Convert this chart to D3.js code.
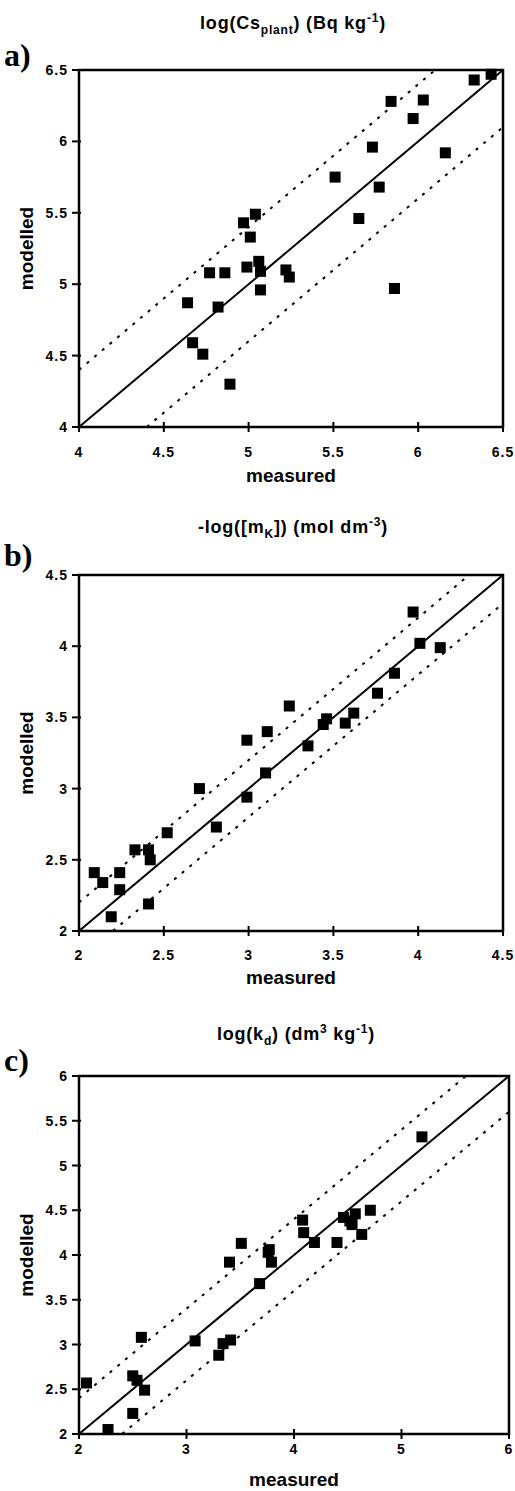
<!DOCTYPE html>
<html>
<head>
<meta charset="utf-8">
<script src="https://cdn.jsdelivr.net/npm/d3@7"></script>
<style>
  body { margin: 0; background: #fff; }
  text { font-family: "Liberation Sans", Arial, sans-serif; font-weight: bold; fill: #000; }
  .letter { font-family: "Liberation Serif", "Times New Roman", serif; font-size: 32px; }
</style>
</head>
<body>
<div id="chart"></div>
<script>
// panel a: log(Cs plant)
var aMeasured = [4.64, 4.67, 4.73, 4.77, 4.82, 4.86, 4.89, 4.97, 4.99, 5.01, 5.04, 5.06, 5.07, 5.07,
                 5.22, 5.24, 5.51, 5.65, 5.73, 5.77, 5.84, 5.86, 5.97, 6.03, 6.16, 6.33, 6.43];
var aModelled = [4.87, 4.59, 4.51, 5.08, 4.84, 5.08, 4.30, 5.43, 5.12, 5.33, 5.49, 5.16, 5.09, 4.96,
                 5.10, 5.05, 5.75, 5.46, 5.96, 5.68, 6.28, 4.97, 6.16, 6.29, 5.92, 6.43, 6.47];
var aTicks = [4, 4.5, 5, 5.5, 6, 6.5];
var aBand = 0.4;
var aTitle = [["log(Cs", ""], ["plant", "sub"], [") (Bq kg", ""], ["-1", "sup"], [")", ""]];

// panel b: -log([mK])
var bMeasured = [2.09, 2.14, 2.24, 2.24, 2.19, 2.41, 2.33, 2.41, 2.42, 2.52, 2.71, 2.81, 2.99, 2.99,
                 3.11, 3.10, 3.24, 3.35, 3.44, 3.46, 3.57, 3.62, 3.76, 3.86, 3.97, 4.01, 4.13];
var bModelled = [2.41, 2.34, 2.41, 2.29, 2.10, 2.19, 2.57, 2.57, 2.50, 2.69, 3.00, 2.73, 3.34, 2.94,
                 3.40, 3.11, 3.58, 3.30, 3.45, 3.49, 3.46, 3.53, 3.67, 3.81, 4.24, 4.02, 3.99];
var bTicks = [2, 2.5, 3, 3.5, 4, 4.5];
var bBand = 0.2;
var bTitle = [["-log([m", ""], ["K", "sub"], ["]) (mol dm", ""], ["-3", "sup"], [")", ""]];

// panel c: log(kd)
var cMeasured = [2.07, 2.27, 2.50, 2.50, 2.54, 2.61, 2.58, 3.08, 3.30, 3.34, 3.41, 3.40, 3.51, 3.68,
                 3.76, 3.79, 3.77, 4.08, 4.09, 4.19, 4.40, 4.46, 4.52, 4.54, 4.57, 4.63, 4.71, 5.19];
var cModelled = [2.57, 2.05, 2.23, 2.65, 2.60, 2.49, 3.08, 3.04, 2.88, 3.01, 3.05, 3.92, 4.13, 3.68,
                 4.03, 3.92, 4.06, 4.39, 4.25, 4.14, 4.14, 4.42, 4.38, 4.34, 4.46, 4.23, 4.50, 5.32];
var cXTicks = [2, 3, 4, 5, 6];
var cYTicks = [2, 2.5, 3, 3.5, 4, 4.5, 5, 5.5, 6];
var cBand = 0.4;
var cTitle = [["log(k", ""], ["d", "sub"], [") (dm", ""], ["3", "sup"], [" kg", ""], ["-1", "sup"], [")", ""]];

var panels = [
  { letter: "a)", title: aTitle, xs: aMeasured, ys: aModelled, xTicks: aTicks, yTicks: aTicks, band: aBand,
    left: 79, right: 503, top: 70, bottom: 427, titleY: 29, letterY: 66, tickY: 457, labelY: 482 },
  { letter: "b)", title: bTitle, xs: bMeasured, ys: bModelled, xTicks: bTicks, yTicks: bTicks, band: bBand,
    left: 79, right: 503, top: 575, bottom: 931, titleY: 533, letterY: 566, tickY: 960, labelY: 984 },
  { letter: "c)", title: cTitle, xs: cMeasured, ys: cModelled, xTicks: cXTicks, yTicks: cYTicks, band: cBand,
    left: 79, right: 509, top: 1076, bottom: 1434, titleY: 1040, letterY: 1071, tickY: 1454, labelY: 1486 }
];

var svg = d3.select("#chart").append("svg")
    .attr("width", 515)
    .attr("height", 1491);

var markSize = 11;

panels.forEach(function(p) {
  var lo = p.xTicks[0], hi = p.xTicks[p.xTicks.length - 1];
  var x = d3.scaleLinear().domain([lo, hi]).range([p.left, p.right]);
  var y = d3.scaleLinear().domain([p.yTicks[0], p.yTicks[p.yTicks.length - 1]]).range([p.bottom, p.top]);
  var g = svg.append("g");
  var cx = (p.left + p.right) / 2, cy = (p.top + p.bottom) / 2;

  // title with sub / superscripts
  var t = g.append("text")
      .attr("x", cx + 2)
      .attr("y", p.titleY)
      .attr("text-anchor", "middle")
      .style("font-size", "18px")
      .style("letter-spacing", "0.8px");
  var shift = 0;
  p.title.forEach(function(part) {
    var dy = 0, size = "18px";
    if (part[1] == "sub") { dy = 5 - shift; shift = 5; size = "12px"; }
    else if (part[1] == "sup") { dy = -7 - shift; shift = -7; size = "12px"; }
    else { dy = -shift; shift = 0; }
    t.append("tspan").attr("dy", dy).style("font-size", size).text(part[0]);
  });

  g.append("text").attr("class", "letter")
      .attr("x", 4).attr("y", p.letterY)
      .text(p.letter);

  // 1:1 line and the +/- band lines
  var lines = [
    { a: [lo, lo], b: [hi, hi], dash: null },
    { a: [lo, lo + p.band], b: [hi - p.band, hi], dash: "3,7" },
    { a: [lo + p.band, lo], b: [hi, hi - p.band], dash: "3,7" }
  ];
  g.selectAll(".ref").data(lines).enter().append("line")
      .attr("x1", function(d) { return x(d.a[0]); })
      .attr("y1", function(d) { return y(d.a[1]); })
      .attr("x2", function(d) { return x(d.b[0]); })
      .attr("y2", function(d) { return y(d.b[1]); })
      .attr("stroke", "#000")
      .attr("stroke-width", 2)
      .attr("stroke-dasharray", function(d) { return d.dash; });

  // frame
  g.append("rect")
      .attr("x", p.left).attr("y", p.top)
      .attr("width", p.right - p.left).attr("height", p.bottom - p.top)
      .attr("fill", "none").attr("stroke", "#000").attr("stroke-width", 2.5);

  // y ticks
  g.selectAll(".yt").data(p.yTicks).enter().append("line")
      .attr("x1", p.left - 7).attr("x2", p.left + 2)
      .attr("y1", function(d) { return y(d); }).attr("y2", function(d) { return y(d); })
      .attr("stroke", "#000").attr("stroke-width", 2);
  g.selectAll(".yl").data(p.yTicks).enter().append("text")
      .attr("x", p.left - 11)
      .attr("y", function(d) { return y(d); })
      .attr("dy", "0.36em")
      .attr("text-anchor", "end")
      .style("font-size", "14px")
      .style("letter-spacing", "1px")
      .text(function(d) { return d; });

  // x ticks
  g.selectAll(".xt").data(p.xTicks).enter().append("line")
      .attr("x1", function(d) { return x(d); }).attr("x2", function(d) { return x(d); })
      .attr("y1", p.bottom - 5).attr("y2", p.bottom + 5)
      .attr("stroke", "#000").attr("stroke-width", 2);
  g.selectAll(".xl").data(p.xTicks).enter().append("text")
      .attr("x", function(d) { return x(d); })
      .attr("y", p.tickY)
      .attr("text-anchor", "middle")
      .style("font-size", "14px")
      .style("letter-spacing", "1px")
      .text(function(d) { return d; });

  g.append("text")
      .attr("x", cx).attr("y", p.labelY)
      .attr("text-anchor", "middle")
      .style("font-size", "19px")
      .text("measured");
  g.append("text")
      .attr("transform", "translate(33," + cy + ") rotate(-90)")
      .attr("text-anchor", "middle")
      .style("font-size", "19px")
      .text("modelled");

  // points
  g.selectAll(".pt").data(p.xs).enter().append("rect")
      .attr("x", function(d) { return x(d) - markSize / 2; })
      .attr("y", function(d, i) { return y(p.ys[i]) - markSize / 2; })
      .attr("width", markSize).attr("height", markSize)
      .attr("fill", "#000");
});
</script>
</body>
</html>
